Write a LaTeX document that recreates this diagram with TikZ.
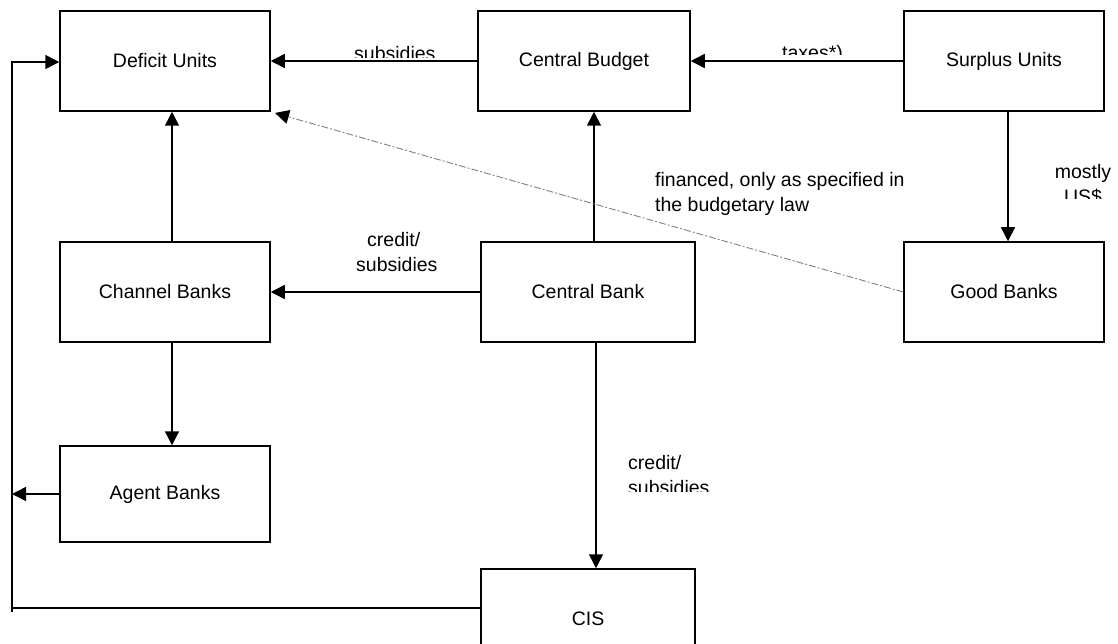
\documentclass[tikz,border=0pt]{standalone}
\usepackage{fontspec}
\setmainfont{Liberation Sans}
\usetikzlibrary{arrows.meta}
\tikzset{
  box/.style={draw, line width=1.5pt, minimum width=210pt, minimum height=100pt, inner sep=0pt, font=\fontsize{19.5}{24}\selectfont},
  conn/.style={line width=1.5pt},
  arr/.style={conn, -{Triangle[length=14pt,width=14pt]}},
  lbl/.style={inner sep=0pt, font=\fontsize{19.5}{25}\selectfont},
  dashconn/.style={line width=0.9pt, gray, dash pattern=on 7pt off 2pt on 2pt off 2pt, -{Triangle[length=14pt,width=14pt,black]}}
}
\begin{document}
\begin{tikzpicture}[x=1pt,y=-1pt]
\useasboundingbox (0,0) rectangle (1118,644);
\clip (0,0) rectangle (1118,644);
% boxes
\node[box] (du) at (165,61) {Deficit Units};
\node[box, minimum width=212pt] (cbud) at (584,61) {Central Budget};
\node[box, minimum width=200pt] (su) at (1004,61) {Surplus Units};
\node[box] (chb) at (165,292) {Channel Banks};
\node[box, minimum width=214pt] (cbank) at (588,292) {Central Bank};
\node[box, minimum width=200pt] (gb) at (1004,292) {Good Banks};
\node[box, minimum height=96pt] (ab) at (165,494) {Agent Banks};
\node[box, minimum width=214pt] (cis) at (588,619) {CIS};
% helper coordinates
\coordinate (lx) at (12,0);
\coordinate (tip) at (275,113);
% connectors
\draw[arr] (cbud.west) -- (du.east);
\draw[arr] (su.west) -- (cbud.east);
\draw[arr] (su.south -| 1008,0) -- (gb.north -| 1008,0);
\draw[arr] (cbank.north -| 594,0) -- (cbud.south -| 594,0);
\draw[arr] (cbank.west) -- (chb.east);
\draw[arr] (chb.north -| 172,0) -- (du.south -| 172,0);
\draw[arr] (chb.south -| 172,0) -- (ab.north -| 172,0);
\draw[arr] (cbank.south -| 596,0) -- (cis.north -| 596,0);
\draw[arr] (ab.west) -- (ab.west -| lx);
\draw[conn] (cis.west |- 0,608) -- (lx |- 0,608);
\draw[arr] (lx |- 0,612) -- (lx |- 0,62) -- (du.west |- 0,62);
\draw[dashconn] (gb.west) -- (tip);
% labels
\begin{scope}
\clip (330,30) rectangle (470,57.3);
\node[lbl, anchor=base west] at (354,60.7) {subsidies};
\end{scope}
\begin{scope}
\clip (760,30) rectangle (880,54.5);
\node[lbl, anchor=base west] at (782,59.5) {taxes*)};
\end{scope}
\begin{scope}
\clip (1030,150) rectangle (1118,199);
\node[lbl, align=center, anchor=north] at (1083,164) {mostly\\US\$};
\end{scope}
\node[lbl, align=left, anchor=north west] at (356,232) {\hspace*{11pt}credit/\\subsidies};
\begin{scope}
\clip (610,440) rectangle (730,491);
\node[lbl, align=left, anchor=north west] at (628,455) {credit/\\subsidies};
\end{scope}
\node[lbl, align=left, anchor=north west] at (655,172) {financed, only as specified in\\the budgetary law};
\end{tikzpicture}
\end{document}
